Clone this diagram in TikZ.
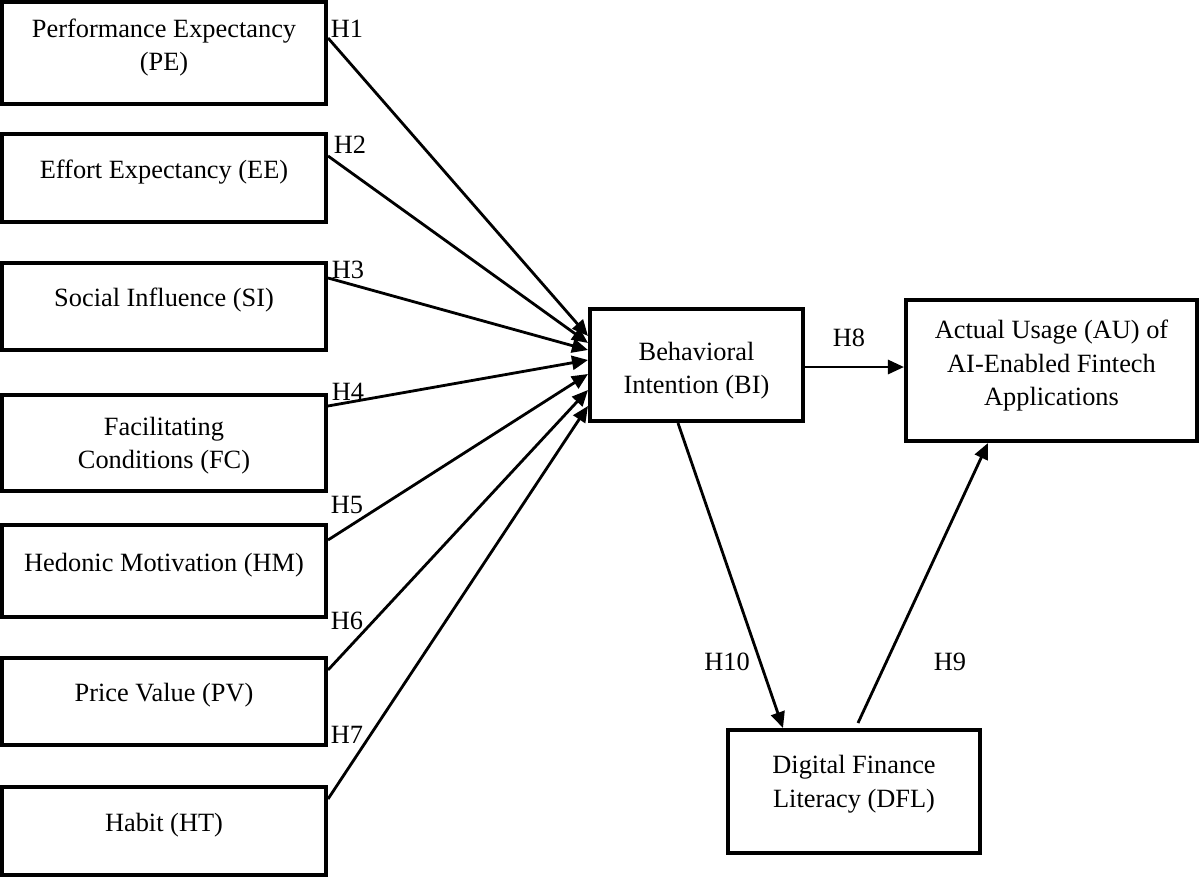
\documentclass[tikz,border=0pt]{standalone}
\usepackage{fontspec}
\setmainfont{Liberation Serif}
\usetikzlibrary{arrows.meta}

\begin{document}
\begin{tikzpicture}[every node/.style={font=\fontsize{15}{19}\selectfont},
    box/.style={draw,line width=2.3pt,align=center,inner sep=0pt},
    lbl/.style={inner sep=0pt},
    link/.style={line width=1.6pt,-{Triangle[length=0.32cm,width=0.28cm]}}]
        \useasboundingbox (0,0) rectangle (24,-17.54);

        %constructs on the left
        \node[box,minimum width=6.48cm,minimum height=2.04cm,text depth=0.33cm] (pe) at (3.28,-1.06) {Performance Expectancy\\(PE)};
        \node[box,minimum width=6.48cm,minimum height=1.76cm,text depth=0.36cm] (ee) at (3.28,-3.56) {Effort Expectancy (EE)};
        \node[box,minimum width=6.48cm,minimum height=1.74cm,text depth=0.36cm] (si) at (3.28,-6.13) {Social Influence (SI)};
        \node[box,minimum width=6.48cm,minimum height=1.92cm,text height=1.15cm] (fc) at (3.28,-8.86) {Facilitating\\Conditions (FC)};
        \node[box,minimum width=6.48cm,minimum height=1.84cm,text depth=0.36cm] (hm) at (3.28,-11.42) {Hedonic Motivation (HM)};
        \node[box,minimum width=6.48cm,minimum height=1.74cm,text depth=0.36cm] (pv) at (3.28,-14.03) {Price Value (PV)};
        \node[box,minimum width=6.48cm,minimum height=1.76cm,text depth=0.36cm] (ht) at (3.28,-16.62) {Habit (HT)};

        %intention, usage and literacy
        \node[box,minimum width=4.26cm,minimum height=2.24cm,text height=1.25cm] (bi) at (13.93,-7.30) {Behavioral\\Intention (BI)};
        \node[box,minimum width=5.82cm,minimum height=2.82cm,text depth=0.31cm] (au) at (21.03,-7.41) {Actual Usage (AU) of\\AI-Enabled Fintech\\Applications};
        \node[box,minimum width=5.04cm,minimum height=2.46cm,text depth=0.4cm] (dfl) at (17.08,-15.83) {Digital Finance\\Literacy (DFL)};

        %paths into BI
        \draw[link] ([yshift=-0.76cm]pe.north east) -- ([yshift=-0.58cm]bi.north west);
        \draw[link] ([yshift=-0.48cm]ee.north east) -- ([yshift=-0.72cm]bi.north west);
        \draw[link] ([yshift=-0.34cm]si.north east) -- ([yshift=-0.86cm]bi.north west);
        \draw[link] ([yshift=-0.26cm]fc.north east) -- ([yshift=-1.06cm]bi.north west);
        \draw[link] ([yshift=-0.34cm]hm.north east) -- ([yshift=-1.34cm]bi.north west);
        \draw[link] ([yshift=-0.28cm]pv.north east) -- ([yshift=-1.66cm]bi.north west);
        \draw[link] ([yshift=-0.28cm]ht.north east) -- ([yshift=-1.98cm]bi.north west);

        %other paths
        \draw[link] ([yshift=-0.04cm]bi.east) -- ([yshift=-0.04cm]bi.east -| au.west);
        \draw[link] ([xshift=1.8cm]bi.south west) -- ([xshift=1.14cm]dfl.north west);
        \draw[link] ([xshift=2.64cm,yshift=0.1cm]dfl.north west) -- ([xshift=1.68cm]au.south west);

        %hypotheses
        \node[lbl] (h1) at (6.94,-0.58) {H1};
        \node[lbl] (h2) at (7.0,-2.9) {H2};
        \node[lbl] (h3) at (6.96,-5.4) {H3};
        \node[lbl] (h4) at (6.96,-7.84) {H4};
        \node[lbl] (h5) at (6.94,-10.1) {H5};
        \node[lbl] (h6) at (6.94,-12.42) {H6};
        \node[lbl] (h7) at (6.94,-14.7) {H7};
        \node[lbl] (h8) at (16.98,-6.76) {H8};
        \node[lbl] (h10) at (14.54,-13.24) {H10};
        \node[lbl] (h9) at (19.0,-13.24) {H9};

\end{tikzpicture}
\end{document}
